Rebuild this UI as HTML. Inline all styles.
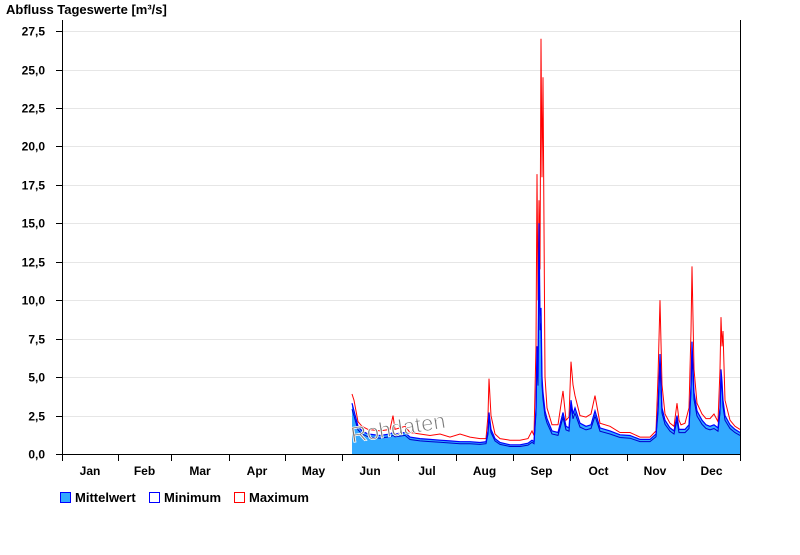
<!DOCTYPE html>
<html><head><meta charset="utf-8"><style>
body{margin:0;background:#fff;width:800px;height:550px;overflow:hidden;font-family:"Liberation Sans",Arial,sans-serif}
text{font-family:"Liberation Sans",Arial,sans-serif}
</style></head><body>
<svg id="s" width="800" height="550" viewBox="0 0 800 550" xmlns="http://www.w3.org/2000/svg">
<text x="6" y="14" font-size="13" font-weight="bold" fill="#000">Abfluss Tageswerte [m³/s]</text>
<g id="grid" stroke="#e6e6e6" stroke-width="1"></g>
<g id="data"></g>
<text x="352" y="443" font-size="22" fill="#777" stroke="#fff" stroke-width="0.8" transform="rotate(-9 350 442)">Rohdaten</text>
<g id="axes" stroke="#000" stroke-width="1"></g>
<g id="labels" font-size="12" font-weight="bold" fill="#000"></g>
<g font-size="13" font-weight="bold">
<rect x="60.5" y="492.5" width="10" height="10" fill="#33aaff" stroke="#0000ff"/>
<text x="75" y="502">Mittelwert</text>
<rect x="149.5" y="492.5" width="10" height="10" fill="#fff" stroke="#0000ff"/>
<text x="164" y="502">Minimum</text>
<rect x="234.5" y="492.5" width="10" height="10" fill="#fff" stroke="#ff0000"/>
<text x="249" y="502">Maximum</text>
</g>
</svg>
<script>
const Y=v=>454-v*15.38;
let g=document.getElementById('grid'),ax=document.getElementById('axes'),lb=document.getElementById('labels'),d=document.getElementById('data');
const ns='http://www.w3.org/2000/svg';
function el(p,t,a,txt){let e=document.createElementNS(ns,t);for(let k in a)e.setAttribute(k,a[k]);if(txt)e.textContent=txt;p.appendChild(e);return e;}
for(let i=0;i<=11;i++){let v=i*2.5,y=Math.round(Y(v))+0.5;
 if(i>0)el(g,'line',{x1:62,x2:740,y1:y,y2:y});
 el(ax,'line',{x1:56,x2:62,y1:y,y2:y});
 el(lb,'text',{x:45,y:y+4,'text-anchor':'end'},v.toFixed(1).replace('.',','));}
el(ax,'line',{x1:62.5,x2:62.5,y1:20,y2:454});
el(ax,'line',{x1:740.5,x2:740.5,y1:20,y2:454});
el(ax,'line',{x1:56,x2:740,y1:454.5,y2:454.5});
const mt=[62,118,171,229,285,342,398,456,513,570,627,683,740];
const mn=['Jan','Feb','Mar','Apr','May','Jun','Jul','Aug','Sep','Oct','Nov','Dec'];
mt.forEach(x=>el(ax,'line',{x1:x+.5,x2:x+.5,y1:454,y2:461}));
for(let i=0;i<12;i++)el(lb,'text',{x:(mt[i]+mt[i+1])/2,y:475,'text-anchor':'middle'},mn[i]);
const K=[[352,3.3,3.9],[354,2.8,3.5],[358,1.8,2.1],[362,1.5,1.8],[368,1.3,1.6],[380,1.2,1.5],[390,1.3,1.6],[393,1.4,2.5],[395,1.3,1.6],[405,1.4,1.8],[410,1.1,1.4],[420,1.0,1.3],[430,0.95,1.2],[440,0.9,1.3],[450,0.85,1.1],[460,0.8,1.3],[470,0.8,1.1],[480,0.75,1.0],[486,0.8,1.0],[488,1.5,2.5],[489,2.7,4.9],[491,1.6,2.5],[495,1.0,1.3],[500,0.75,1.0],[510,0.6,0.9],[520,0.6,0.9],[528,0.7,1.0],[532,0.9,1.5],[534,0.8,1.2],[536,3,7],[537,7,18.2],[538,5,10],[539,15,16.5],[540,9,12],[541,9.5,27],[542,5,18],[543,4,24.5],[545,2.8,5],[547,2.3,3],[552,1.5,1.9],[558,1.4,1.9],[563,2.7,4.1],[566,1.8,2.2],[569,1.7,2.4],[571,3.5,6],[573,2.6,4.5],[575,3,3.8],[580,2,2.5],[586,1.8,2.4],[591,1.9,2.6],[595,2.8,3.8],[600,1.7,2.0],[610,1.5,1.8],[620,1.25,1.4],[630,1.2,1.4],[640,0.95,1.1],[650,0.95,1.1],[656,1.3,1.5],[658,3,5],[660,6.5,10],[662,3,4.5],[665,2.2,2.6],[670,1.7,2.0],[674,1.5,1.8],[677,2.5,3.3],[679,1.6,2.2],[681,1.6,1.9],[685,1.6,2.0],[689,1.9,3],[691,4.5,8],[692,7.3,12.2],[694,4,5.5],[697,2.8,3.3],[702,2.2,2.6],[706,1.9,2.3],[710,1.8,2.3],[714,1.9,2.6],[718,1.7,2.1],[720,3,5.5],[721,5.5,8.9],[722,4.7,7],[723,3.5,8],[725,2.5,3.5],[730,1.9,2.2],[735,1.6,1.8],[740,1.4,1.6]];
let mp=K.map(k=>k[0]+','+Y(k[1]).toFixed(1)).join(' ');
let minp=K.map(k=>k[0]+','+Y(k[1]*0.9-0.05).toFixed(1)).join(' ');
let maxp=K.map(k=>k[0]+','+Y(k[2]).toFixed(1)).join(' ');
el(d,'polygon',{points:'352,454 '+mp+' 740,454',fill:'#33aaff'});
el(d,'polyline',{points:maxp,fill:'none',stroke:'#ff0000','stroke-width':1});
el(d,'polyline',{points:minp,fill:'none',stroke:'#0000cc','stroke-width':1});
el(d,'polyline',{points:mp,fill:'none',stroke:'#0000ff','stroke-width':1.2});
</script>
</body></html>
